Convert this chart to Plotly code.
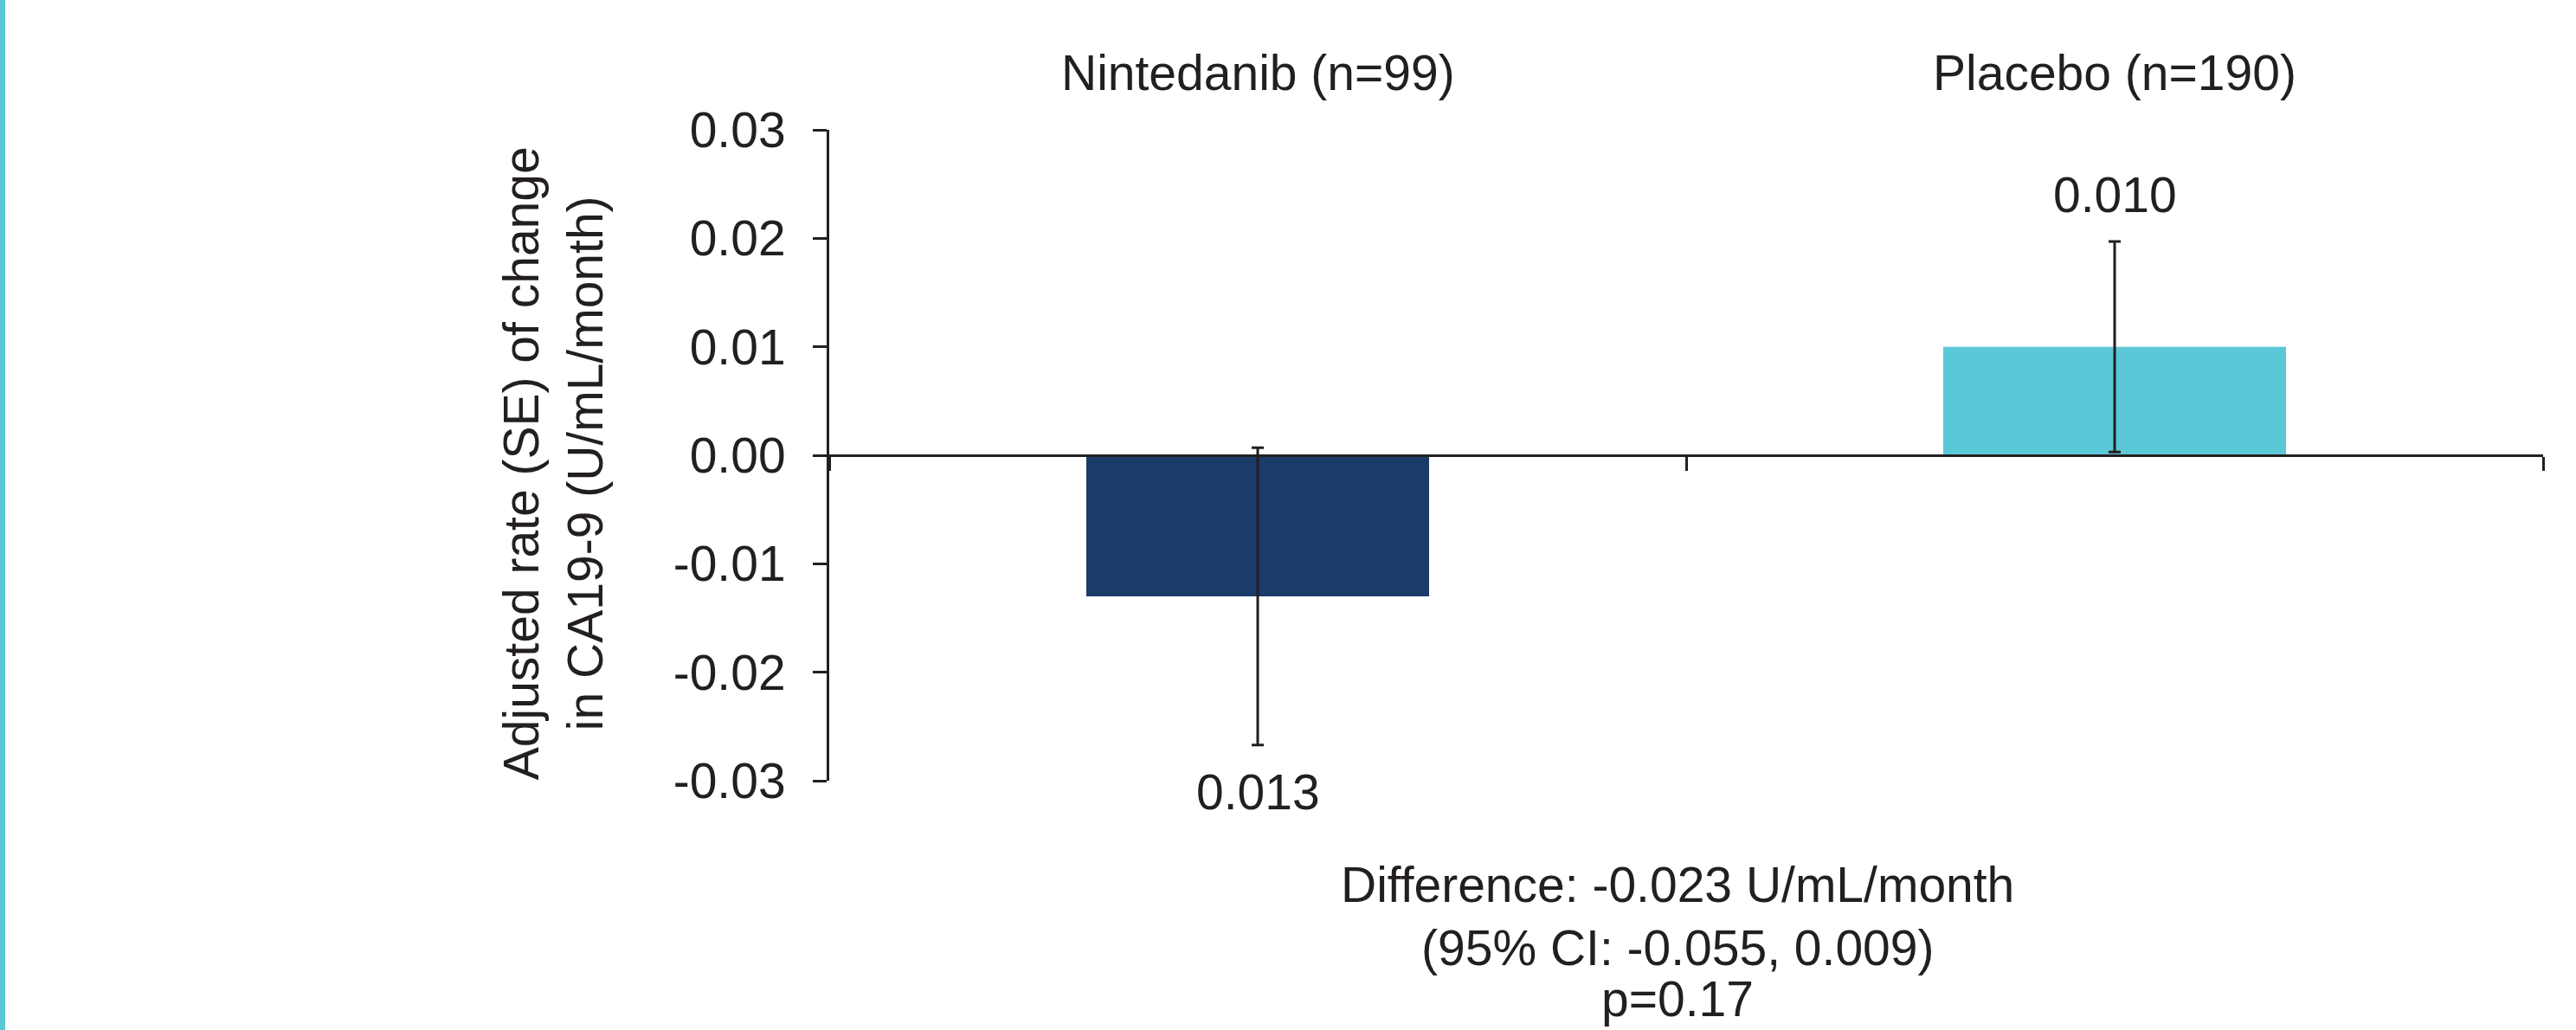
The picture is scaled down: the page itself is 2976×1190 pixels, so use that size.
import plotly.graph_objects as go

# Adjusted rate of change in CA19-9 by treatment arm
groups = ["Nintedanib (n=99)", "Placebo (n=190)"]
rates = [-0.013, 0.010]
std_errors = [0.0137, 0.0097]
bar_colors = ["#1B3C6B", "#5BC8D8"]

y_tickvals = [-0.03, -0.02, -0.01, 0.00, 0.01, 0.02, 0.03]
y_ticktext = ["-0.03", "-0.02", "-0.01", "0.00", "0.01", "0.02", "0.03"]

difference_lines = ["Difference: -0.023 U/mL/month",
                    "(95% CI: -0.055, 0.009)",
                    "p=0.17"]
y_title = "Adjusted rate (SE) of change<br>in CA19-9 (U/mL/month)"

INK = "#231F20"
FONT = "Liberation Sans, Arial, Helvetica, sans-serif"
FS = 57

fig = go.Figure()
fig.add_trace(go.Bar(
    x=groups,
    y=rates,
    width=0.4,
    marker=dict(color=bar_colors, line=dict(width=0)),
    error_y=dict(type="data", array=std_errors, visible=True,
                 color=INK, thickness=3, width=7),
    showlegend=False,
    hoverinfo="skip",
))

# Value labels beyond the ends of the error bars
for g, r, se in zip(groups, rates, std_errors):
    if r >= 0:
        fig.add_annotation(x=g, y=r + se, xref="x", yref="y",
                           text=f"{abs(r):.3f}", showarrow=False,
                           yanchor="middle", yshift=54,
                           font=dict(size=FS, color=INK, family=FONT))
    else:
        fig.add_annotation(x=g, y=r - se, xref="x", yref="y",
                           text=f"{abs(r):.3f}", showarrow=False,
                           yanchor="middle", yshift=-54,
                           font=dict(size=FS, color=INK, family=FONT))

# Group names above the plot
for g in groups:
    fig.add_annotation(x=g, y=1, xref="x", yref="paper", text=g,
                       showarrow=False, yanchor="middle", yshift=66,
                       font=dict(size=FS, color=INK, family=FONT))

# Treatment difference summary below the plot, one line at a time
line_offsets = [-120, -193, -252]
for txt, dy in zip(difference_lines, line_offsets):
    fig.add_annotation(x=0.495, y=0, xref="paper", yref="paper",
                       text=txt, showarrow=False,
                       xanchor="center", yanchor="middle", yshift=dy,
                       font=dict(size=FS, color=INK, family=FONT))

# Y-axis title
fig.add_annotation(x=-0.161, y=0.488, xref="paper", yref="paper",
                   text=y_title, textangle=-90, showarrow=False,
                   xanchor="center", yanchor="middle", align="center",
                   font=dict(size=FS, color=INK, family=FONT))

# Accent strip along the left edge of the page
fig.add_shape(type="rect", xref="paper", yref="paper",
              x0=-958 / 1980, x1=-952 / 1980, y0=-288 / 752, y1=1 + 150 / 752,
              fillcolor="#5BC8D8", line=dict(width=0), layer="above")

fig.update_layout(
    width=2976, height=1190, autosize=False,
    margin=dict(l=958, r=38, t=150, b=288, pad=0),
    paper_bgcolor="white", plot_bgcolor="white",
    font=dict(family=FONT, size=FS, color=INK),
    bargap=0.6,
    xaxis=dict(
        type="category", range=[-0.5, 1.5],
        anchor="free", position=0.5,
        showline=True, linecolor=INK, linewidth=3,
        ticks="outside", tickson="boundaries", ticklen=16,
        tickwidth=3, tickcolor=INK,
        showticklabels=False, showgrid=False, zeroline=False,
    ),
    yaxis=dict(
        range=[-0.03, 0.03],
        tickmode="array", tickvals=y_tickvals, ticktext=y_ticktext,
        showline=True, linecolor=INK, linewidth=3,
        ticks="outside", ticklen=16, tickwidth=3, tickcolor=INK,
        ticklabelstandoff=20,
        tickfont=dict(size=57, color=INK, family=FONT),
        showgrid=False, zeroline=False,
    ),
)

fig.write_html("out.html")
